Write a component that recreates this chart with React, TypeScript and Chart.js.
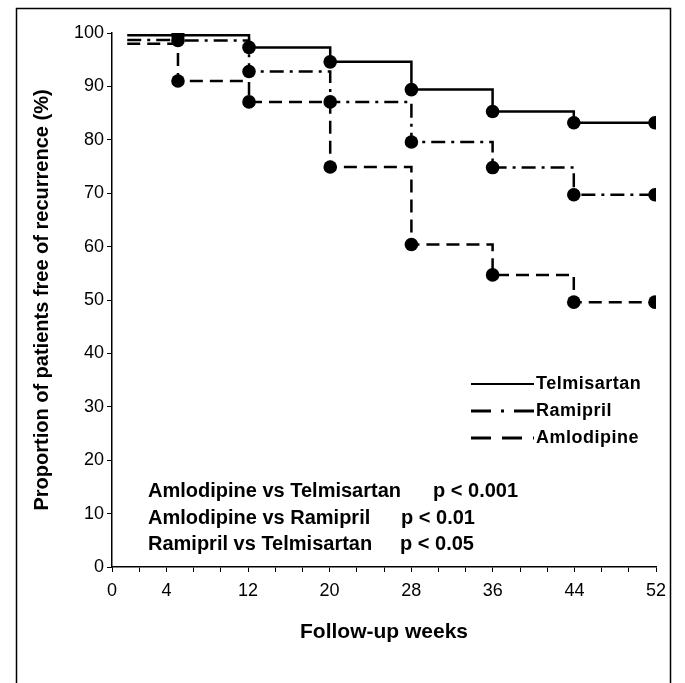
import React, { useEffect, useRef } from 'react';
import { Chart, registerables } from 'chart.js';

Chart.register(...registerables);

// ---- data ----
const visitWeeks = [0, 5, 12, 20, 28, 36, 44, 52];
const telmisartan = [99.6, 99.6, 97.3, 94.6, 89.4, 85.3, 83.2, 83.2];
const ramipril = [98.7, 98.6, 92.8, 87.1, 79.6, 74.8, 69.7, 69.7];
const amlodipine = [98.0, 91.0, 87.1, 74.9, 60.4, 54.7, 49.6, 49.6];

const xTickLabels = ['0', '4', '12', '20', '28', '36', '44', '52'];
const seriesNames = ['Telmisartan', 'Ramipril', 'Amlodipine'];
const comparisons = ['Amlodipine vs Telmisartan', 'Amlodipine vs Ramipril', 'Ramipril vs Telmisartan'];
const pValues = ['p < 0.001', 'p < 0.01', 'p < 0.05'];

const xTitle = 'Follow-up weeks';
const yTitle = 'Proportion of patients free of recurrence (%)';

// ---- axis layout ----
const X_MIN = -1.5;
const X_MAX = 52.1;
const X_TICK_COUNT = 20;
const X_STEP = (X_MAX - X_MIN) / X_TICK_COUNT;

const FONT = "'Liberation Sans', Arial, sans-serif";

const lineDashes = [[], [14, 6, 3, 6], [13, 7]];
const legendDashes = [[], [20, 10, 3, 10], [20, 11]];

const labelSlot = (label: string, i: number) =>
  i === 0 ? 0 : Math.round((parseFloat(label) - X_MIN) / X_STEP);

const slotLabels: Record<number, string> = {};
xTickLabels.forEach((l, i) => {
  slotLabels[labelSlot(l, i)] = l;
});

const decorPlugin = {
  id: 'decor',
  afterDraw(chart: any) {
    const ctx = chart.ctx;
    ctx.save();
    // outer frame
    ctx.strokeStyle = '#000';
    ctx.lineWidth = 1.5;
    ctx.strokeRect(16.5, 8.5, 654, 700);

    // legend
    ctx.font = `bold 18px ${FONT}`;
    ctx.textBaseline = 'middle';
    ctx.textAlign = 'left';
    ctx.fillStyle = '#000';
    seriesNames.forEach((name, i) => {
      const y = 384 + i * 27;
      ctx.save();
      ctx.lineWidth = i === 0 ? 2 : 3;
      ctx.lineCap = 'butt';
      ctx.setLineDash(legendDashes[i]);
      ctx.beginPath();
      ctx.moveTo(471, y);
      ctx.lineTo(534, y);
      ctx.stroke();
      ctx.restore();
      ctx.save();
      try {
        (ctx as any).letterSpacing = '0.5px';
      } catch (e) {}
      ctx.fillText(name, 536, y);
      ctx.restore();
    });

    // comparison annotations
    ctx.font = `bold 20px ${FONT}`;
    ctx.textBaseline = 'middle';
    ctx.textAlign = 'left';
    ctx.fillStyle = '#000';
    const rowsY = [491, 518, 544];
    const pX = [433, 401, 400];
    comparisons.forEach((c, i) => {
      ctx.fillText(c, 148, rowsY[i]);
      ctx.fillText(pValues[i], pX[i], rowsY[i]);
    });
    ctx.restore();
  },
};

export default function App() {
  const canvasRef = useRef<HTMLCanvasElement | null>(null);

  useEffect(() => {
    if (!canvasRef.current) return;
    const mk = (vals: number[]) => visitWeeks.map((w, i) => ({ x: w, y: vals[i] }));
    const allSeries = [telmisartan, ramipril, amlodipine];
    const chart = new Chart(canvasRef.current, {
      type: 'line',
      data: {
        datasets: allSeries.map((vals, i) => ({
          label: seriesNames[i],
          data: mk(vals),
          borderColor: '#000',
          backgroundColor: '#000',
          borderWidth: 2.5,
          borderDash: lineDashes[i],
          borderCapStyle: 'butt',
          stepped: 'before',
          fill: false,
          pointRadius: (c: any) => (c.dataIndex === 0 ? 0 : 6.8),
          pointBackgroundColor: '#000',
          pointBorderColor: '#000',
          pointBorderWidth: 0,
          pointHoverRadius: 0,
        })),
      },
      options: {
        animation: false,
        responsive: false,
        layout: { padding: { left: 30, top: 33, right: 29, bottom: 38 } },
        plugins: { legend: { display: false }, tooltip: { enabled: false } },
        scales: {
          x: {
            type: 'linear',
            min: X_MIN,
            max: X_MAX,
            bounds: 'data',
            afterBuildTicks: (s: any) => {
              s.ticks = Array.from({ length: X_TICK_COUNT + 1 }, (_, k) => ({ value: X_MIN + k * X_STEP }));
            },
            afterFit: (s: any) => {
              s.height = 78;
            },
            ticks: {
              autoSkip: false,
              maxRotation: 0,
              minRotation: 0,
              padding: 8,
              color: '#000',
              font: { family: FONT, size: 18 },
              callback: (_v: any, i: number) => slotLabels[i] ?? '',
            },
            grid: { drawOnChartArea: false, tickLength: 5, color: '#000', lineWidth: 1 },
            border: { color: '#000', width: 1.5 },
            title: {
              display: true,
              text: xTitle,
              color: '#000',
              padding: 0,
              font: { family: FONT, size: 21, weight: 'bold' },
            },
          },
          y: {
            type: 'linear',
            min: 0,
            max: 100,
            afterFit: (s: any) => {
              s.width = 82;
            },
            ticks: {
              stepSize: 10,
              padding: 3,
              color: '#000',
              font: { family: FONT, size: 18 },
            },
            grid: { drawOnChartArea: false, tickLength: 5, color: '#000', lineWidth: 1 },
            border: { color: '#000', width: 1.5 },
            title: {
              display: true,
              text: yTitle,
              color: '#000',
              padding: 0,
              font: { family: FONT, size: 20, weight: 'bold' },
            },
          },
        },
      } as any,
      plugins: [decorPlugin],
    });
    return () => chart.destroy();
  }, []);

  return (
    <div style={{ position: 'absolute', left: 0, top: 0, width: 685, height: 683, background: '#fff' }}>
      <canvas ref={canvasRef} width={685} height={683} style={{ display: 'block' }} />
    </div>
  );
}
